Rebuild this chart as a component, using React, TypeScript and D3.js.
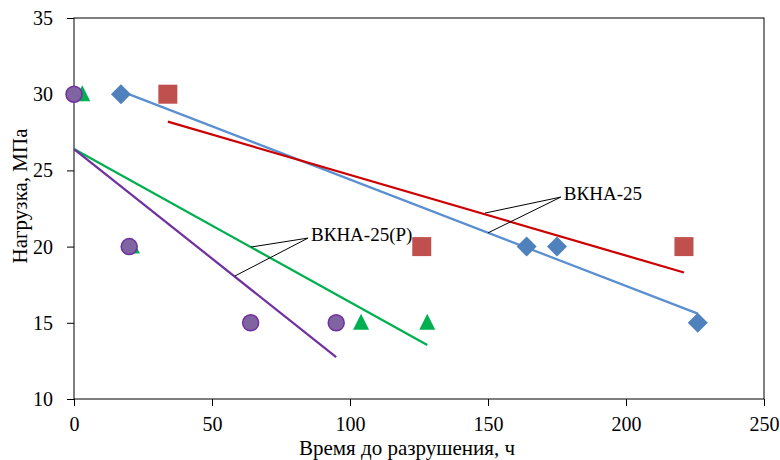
import { useEffect, useRef } from "react";
import * as d3 from "d3";

// ВКНА-25 (blue diamonds, red squares), ВКНА-25(Р) (green triangles, purple circles)
const diamondPts = [[17, 30], [164, 20], [175, 20], [226, 15]];
const squarePts = [[34, 30], [126, 20], [221, 20]];
const trianglePts = [[3, 30], [21, 20], [104, 15], [128, 15]];
const circlePts = [[0, 30], [20, 20], [64, 15], [95, 15]];

// trend lines (start / end)
const blueTrend = [[17, 30.2], [226, 15.6]];
const redTrend = [[34, 28.2], [221, 18.3]];
const greenTrend = [[0, 26.4], [128, 13.55]];
const purpleTrend = [[0, 26.4], [95, 12.75]];

// callouts: text anchor, then the points the leaders go to
const callout1 = { label: "ВКНА-25", at: [176.4, 23.25], to: [[148.9, 22.2], [150, 20.9]] };
const callout2 = { label: "ВКНА-25(Р)", at: [84.8, 20.56], to: [[64.1, 19.97], [58.3, 18.07]] };

const xTicks = [0, 50, 100, 150, 200, 250];
const yTicks = [10, 15, 20, 25, 30, 35];

export default function App() {
  const ref = useRef<SVGSVGElement>(null);

  useEffect(() => {
    const svg = d3.select(ref.current);
    svg.selectAll("*").remove();

    const left = 74, right = 764, top = 18, bottom = 399;
    const x = d3.scaleLinear().domain([0, 250]).range([left, right]);
    const y = d3.scaleLinear().domain([10, 35]).range([bottom, top]);
    const font = "Liberation Serif, DejaVu Serif, serif";

    svg.append("rect").attr("width", 780).attr("height", 460).attr("fill", "#fff");

    // frame
    svg.append("rect")
      .attr("x", left).attr("y", top)
      .attr("width", right - left).attr("height", bottom - top)
      .attr("fill", "none").attr("stroke", "#000").attr("stroke-width", 1);

    const xAxis = svg.append("g")
      .attr("transform", `translate(0,${bottom})`)
      .call(d3.axisBottom(x).tickValues(xTicks).tickSize(7).tickPadding(11));
    const yAxis = svg.append("g")
      .attr("transform", `translate(${left},0)`)
      .call(d3.axisLeft(y).tickValues(yTicks).tickSize(7).tickPadding(14));
    [xAxis, yAxis].forEach(a => {
      a.attr("font-family", null).attr("font-size", null);
      a.select(".domain").remove();
      a.selectAll("line").attr("stroke", "#000");
      a.selectAll("text").style("font-family", font).style("font-size", "20px").attr("fill", "#000");
    });

    const line = d3.line<number[]>().x(d => x(d[0])).y(d => y(d[1]));
    const trends: [number[][], string][] = [
      [blueTrend, "#5a8fd1"],
      [redTrend, "#cc0000"],
      [greenTrend, "#00b050"],
      [purpleTrend, "#7030a0"],
    ];
    trends.forEach(([pts, color]) => {
      svg.append("path").attr("d", line(pts)).attr("fill", "none")
        .attr("stroke", color).attr("stroke-width", 2.25);
    });

    // markers
    svg.selectAll(".sq").data(squarePts).join("rect")
      .attr("x", d => x(d[0]) - 9.5).attr("y", d => y(d[1]) - 9.5)
      .attr("width", 19).attr("height", 19).attr("fill", "#c0504d");

    svg.selectAll(".dm").data(diamondPts).join("path")
      .attr("d", d => {
        const cx = x(d[0]), cy = y(d[1]), r = 10;
        return `M${cx},${cy - r}L${cx + r},${cy}L${cx},${cy + r}L${cx - r},${cy}Z`;
      })
      .attr("fill", "#4f81bd");

    svg.selectAll(".tr").data(trianglePts).join("path")
      .attr("d", d => {
        const cx = x(d[0]), cy = y(d[1]);
        return `M${cx},${cy - 9}L${cx + 8},${cy + 7}L${cx - 8},${cy + 7}Z`;
      })
      .attr("fill", "#00b050");

    svg.selectAll(".ci").data(circlePts).join("circle")
      .attr("cx", d => x(d[0])).attr("cy", d => y(d[1])).attr("r", 8)
      .attr("fill", "#8064a2").attr("stroke", "#7030a0").attr("stroke-width", 1.5);

    // callouts
    [callout1, callout2].forEach(c => {
      c.to.forEach(p => {
        svg.append("line")
          .attr("x1", x(c.at[0])).attr("y1", y(c.at[1]))
          .attr("x2", x(p[0])).attr("y2", y(p[1]))
          .attr("stroke", "#000").attr("stroke-width", 1);
      });
      svg.append("text")
        .attr("x", x(c.at[0]) + 3).attr("y", y(c.at[1]) + 3)
        .style("font-family", font).style("font-size", "19px")
        .text(c.label);
    });

    svg.append("text")
      .attr("x", 407).attr("y", 455)
      .attr("text-anchor", "middle")
      .style("font-family", font).style("font-size", "21px")
      .text("Время до разрушения, ч");

    svg.append("text")
      .attr("transform", `translate(27,196) rotate(-90)`)
      .attr("text-anchor", "middle")
      .style("font-family", font).style("font-size", "21px")
      .text("Нагрузка, МПа");
  }, []);

  return (
    <div style={{ position: "absolute", left: 0, top: 0 }}>
      <svg ref={ref} width={780} height={460} />
    </div>
  );
}
